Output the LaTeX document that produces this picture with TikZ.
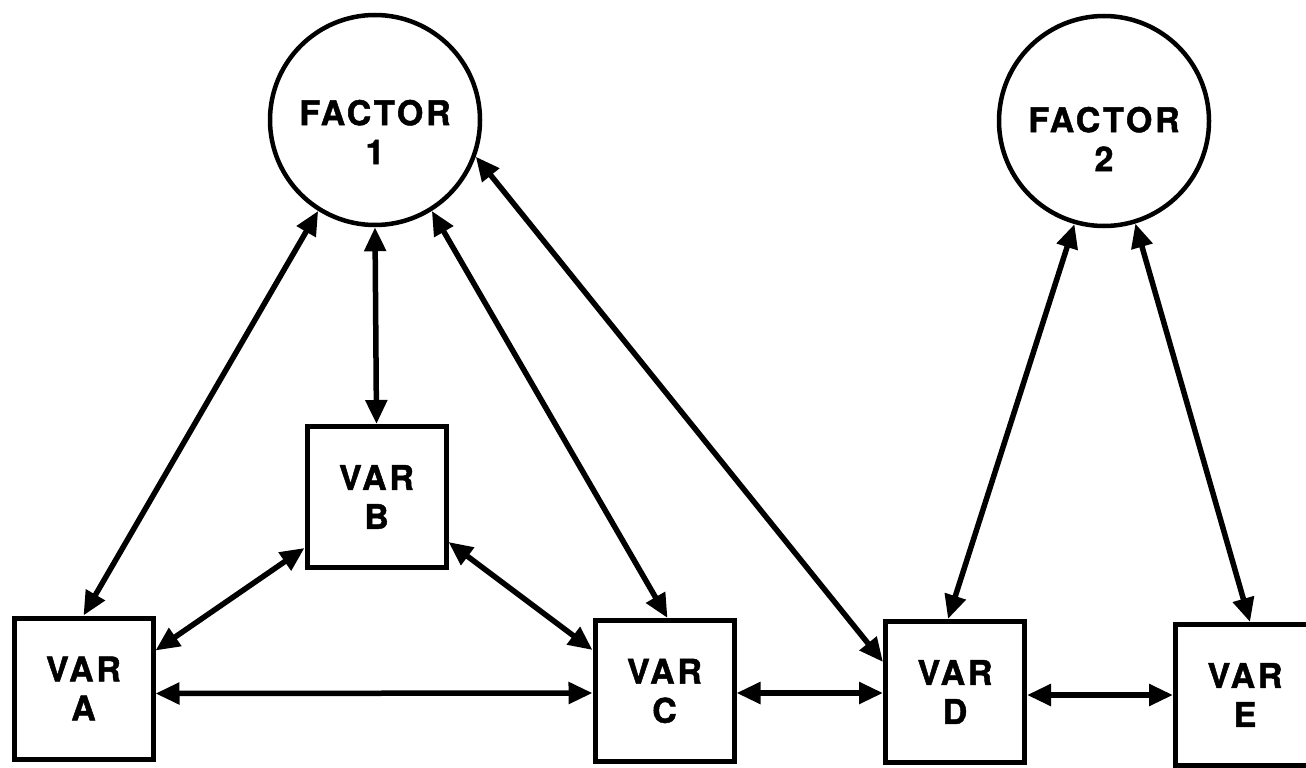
\documentclass[tikz,border=0pt]{standalone}
\usepackage{fontspec}
\newfontfamily\lblfamily[LetterSpace=8,FakeBold=1.4]{TeX Gyre Heros}
\newcommand{\lblfnt}{\lblfamily\bfseries\fontsize{34}{39}\selectfont}
\usetikzlibrary{arrows.meta}
\begin{document}
\begin{tikzpicture}[x=1pt,y=-1pt,
  varbox/.style={draw, line width=5pt, minimum width=139pt, minimum height=141pt,
    inner sep=0pt, align=center, font=\lblfnt},
  factor/.style={circle, draw, line width=4.5pt, minimum size=210pt, inner sep=0pt},
  lbl/.style={align=center, font=\lblfnt, inner sep=0pt},
  link/.style={line width=5.5pt,
    {Triangle[length=24pt,width=21pt]}-{Triangle[length=24pt,width=21pt]}}]
\fill[white] (0,0) rectangle (1306,768);
\useasboundingbox (0,0) rectangle (1306,768);

% factors
\node[factor] (F1) at (375,120) {};
\node[lbl] (F1t) at ([yshift=-12pt]F1.center) {FACTOR\\1};
\node[factor] (F2) at (1104,121) {};
\node[lbl] (F2t) at ([yshift=-18pt]F2.center) {FACTOR\\2};

% variables
\node[varbox] (A) at (83.5,688.5) {VAR\\A};
\node[varbox] (B) at (376.5,497) {VAR\\B};
\node[varbox] (C) at (664.5,691) {VAR\\C};
\node[varbox] (D) at (955,692) {VAR\\D};
\node[varbox] (E) at (1245,695) {VAR\\E};

% links
\draw[link] (F1.238) -- (A.north);
\draw[link] (F1.south) -- (B.north);
\draw[link] (F1.302) -- ([xshift=3pt]C.north);
\draw[link] (F1.340) -- ([yshift=30pt]D.west);
\draw[link] (F2.254) -- ([xshift=-7pt]D.north);
\draw[link] (F2.287) -- ([xshift=5pt]E.north);
\draw[link] ([yshift=-51pt]B.west) -- ([yshift=38pt]A.east);
\draw[link] ([yshift=-45pt]B.east) -- ([yshift=41pt]C.west);
\draw[link] ([yshift=-5pt]A.east) -- ([yshift=-2pt]C.west);
\draw[link] ([yshift=-2pt]C.east) -- ([yshift=-1pt]D.west);
\draw[link] ([yshift=-3pt]D.east) -- (E.west);
\end{tikzpicture}
\end{document}
